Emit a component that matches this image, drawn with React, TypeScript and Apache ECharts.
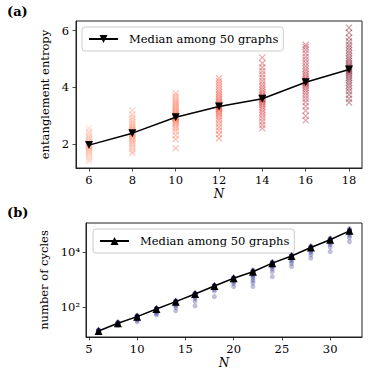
import React, { useEffect, useRef } from 'react';
import * as echarts from 'echarts';

// ---------- Panel (a): entanglement entropy ----------
const nA = [6, 8, 10, 12, 14, 16, 18];
const medianA = [1.97, 2.39, 2.95, 3.33, 3.6, 4.18, 4.63];
const entropyN6 = [1.4, 1.48, 1.55, 1.62, 1.68, 1.72, 1.76, 1.8, 1.83, 1.86, 1.89, 1.91, 1.93, 1.95, 1.96, 1.97, 1.98, 2.0, 2.02, 2.05, 2.08, 2.12, 2.16, 2.2, 2.25, 2.31, 2.38, 2.45, 2.56];
const entropyN8 = [1.68, 1.75, 1.84, 1.92, 2.0, 2.06, 2.12, 2.17, 2.22, 2.26, 2.3, 2.33, 2.36, 2.38, 2.39, 2.4, 2.42, 2.45, 2.48, 2.52, 2.56, 2.61, 2.66, 2.72, 2.79, 2.87, 2.95, 3.05, 3.19];
const entropyN10 = [1.86, 2.18, 2.32, 2.45, 2.55, 2.63, 2.7, 2.76, 2.81, 2.85, 2.89, 2.92, 2.94, 2.95, 2.96, 2.98, 3.01, 3.05, 3.09, 3.14, 3.19, 3.25, 3.31, 3.38, 3.45, 3.52, 3.6, 3.69, 3.79];
const entropyN12 = [2.21, 2.35, 2.48, 2.6, 2.72, 2.83, 2.92, 3.0, 3.07, 3.13, 3.19, 3.24, 3.28, 3.31, 3.33, 3.35, 3.38, 3.42, 3.47, 3.53, 3.6, 3.67, 3.75, 3.83, 3.92, 4.02, 4.12, 4.22, 4.32];
const entropyN14 = [2.56, 2.68, 2.8, 2.92, 3.03, 3.13, 3.22, 3.3, 3.37, 3.43, 3.49, 3.54, 3.58, 3.6, 3.62, 3.66, 3.71, 3.77, 3.84, 3.92, 4.01, 4.11, 4.22, 4.34, 4.46, 4.58, 4.7, 4.85, 5.05];
const entropyN16 = [2.84, 3.0, 3.18, 3.34, 3.48, 3.6, 3.71, 3.81, 3.9, 3.98, 4.05, 4.11, 4.15, 4.18, 4.21, 4.26, 4.32, 4.39, 4.47, 4.56, 4.65, 4.75, 4.86, 4.97, 5.08, 5.2, 5.32, 5.42, 5.5];
const entropyN18 = [3.47, 3.6, 3.74, 3.86, 3.97, 4.07, 4.16, 4.25, 4.33, 4.41, 4.48, 4.54, 4.59, 4.63, 4.67, 4.72, 4.78, 4.85, 4.93, 5.01, 5.1, 5.2, 5.3, 5.4, 5.5, 5.62, 5.75, 5.92, 6.1];
const entropyByN = [entropyN6, entropyN8, entropyN10, entropyN12, entropyN14, entropyN16, entropyN18];
const colorsA = ['#fcb59a', '#fc9677', '#fb7252', '#f04a35', '#d92a2e', '#b8283a', '#7a0f25'];
const xTicksA = [6, 8, 10, 12, 14, 16, 18];
const yTicksA = [2, 4, 6];

// ---------- Panel (b): number of cycles ----------
const nB = [6, 8, 10, 12, 14, 16, 18, 20, 22, 24, 26, 28, 30, 32];
const medianB = [13.4, 25.5, 44.5, 84.5, 156, 296, 575, 1100, 1900, 3900, 7100, 14400, 27500, 58000];
const cyclesN6 = [13, 13, 13, 13, 13, 14, 14, 14, 15];
const cyclesN8 = [21, 23, 24, 25, 25, 25, 26, 26, 26, 26, 27, 28];
const cyclesN10 = [29, 33, 36, 39, 41, 43, 44, 44, 45, 45, 45, 46, 47, 49];
const cyclesN12 = [51, 58, 65, 72, 77, 80, 83, 84, 84, 85, 85, 86, 88, 91];
const cyclesN14 = [73, 95, 112, 125, 138, 146, 152, 155, 156, 157, 157, 159, 163, 170];
const cyclesN16 = [109, 160, 200, 230, 255, 272, 285, 292, 295, 296, 298, 300, 305, 318];
const cyclesN18 = [237, 380, 440, 490, 520, 545, 560, 572, 575, 576, 578, 580, 590, 615];
const cyclesN20 = [550, 700, 820, 900, 960, 1020, 1060, 1090, 1100, 1100, 1105, 1110, 1130, 1180];
const cyclesN22 = [550, 750, 900, 1100, 1300, 1450, 1600, 1750, 1850, 1900, 1900, 1920, 1950, 2050, 2200];
const cyclesN24 = [1260, 1900, 2400, 2800, 3100, 3400, 3650, 3800, 3880, 3900, 3920, 3950, 4100, 4400];
const cyclesN26 = [2950, 3800, 4600, 5300, 5900, 6400, 6800, 7000, 7080, 7100, 7120, 7200, 7500, 8000];
const cyclesN28 = [5900, 8000, 9500, 11000, 12200, 13000, 13800, 14200, 14350, 14400, 14450, 14700, 15300, 16500];
const cyclesN30 = [10200, 15000, 18500, 21500, 23500, 25500, 26500, 27200, 27400, 27500, 27600, 28000, 29500, 31500];
const cyclesN32 = [23400, 33000, 40000, 46000, 51000, 54500, 56500, 57500, 57800, 58000, 58300, 59500, 63000, 70000];
const cyclesByN = [cyclesN6, cyclesN8, cyclesN10, cyclesN12, cyclesN14, cyclesN16, cyclesN18, cyclesN20, cyclesN22, cyclesN24, cyclesN26, cyclesN28, cyclesN30, cyclesN32];
const xTicksB = [5, 10, 15, 20, 25, 30];
const yTicksB = [100, 10000];
const yTickLabelsB: Record<number, string> = { 100: '10²', 10000: '10⁴' };

const legendLabel = 'Median among 50 graphs';
const FONT = 'DejaVu Serif';
const XPATH = 'path://M0,1.3L1.3,0L5,3.7L8.7,0L10,1.3L6.3,5L10,8.7L8.7,10L5,6.3L1.3,10L0,8.7L3.7,5Z';

function axisBase() {
  return {
    axisLine: { show: true, lineStyle: { color: '#222', width: 1 } },
    splitLine: { show: false },
  };
}

export default function App() {
  const ref = useRef<HTMLDivElement>(null);
  useEffect(() => {
    if (!ref.current) return;
    const chart = echarts.init(ref.current, undefined, { renderer: 'svg' });

    const scatterA = entropyByN.map((vals, i) => ({
      type: 'scatter',
      xAxisIndex: 0,
      yAxisIndex: 0,
      silent: true,
      symbol: XPATH,
      symbolSize: 7,
      itemStyle: { color: colorsA[i], opacity: 0.4 },
      data: vals.map((v) => [nA[i], v]),
      z: 2,
    }));
    const scatterBData: number[][] = [];
    cyclesByN.forEach((vals, i) => vals.forEach((v) => scatterBData.push([nB[i], v])));

    const legendCommon = {
      orient: 'horizontal',
      itemWidth: 29,
      itemHeight: 10,
      padding: [6, 5, 6, 6],
      backgroundColor: 'rgba(255,255,255,0.8)',
      borderColor: '#cccccc',
      borderWidth: 1,
      borderRadius: 3,
      selectedMode: false,
      formatter: () => legendLabel,
      textStyle: { fontFamily: FONT, fontSize: 11.5, color: '#000', padding: [0, 0, 0, 6] },
    };

    chart.setOption({
      animation: false,
      backgroundColor: '#fff',
      textStyle: { fontFamily: FONT },
      grid: [
        { left: 76, top: 21, width: 286, height: 147, show: true, borderColor: '#222', borderWidth: 1, backgroundColor: 'transparent' },
        { left: 86, top: 223, width: 276, height: 114, show: true, borderColor: '#222', borderWidth: 1, backgroundColor: 'transparent' },
      ],
      xAxis: [
        {
          ...axisBase(),
          gridIndex: 0, type: 'value', min: 5.4, max: 18.6,
          axisTick: { show: true, length: 3.5, customValues: xTicksA, lineStyle: { color: '#222', width: 0.8 } },
          axisLabel: { customValues: xTicksA, margin: 6, color: '#000', fontFamily: FONT, fontSize: 11.5 },
          name: 'N', nameLocation: 'middle', nameGap: 20,
          nameTextStyle: { fontFamily: FONT, fontStyle: 'italic', fontSize: 12, color: '#000' },
        },
        {
          ...axisBase(),
          gridIndex: 1, type: 'value', min: 4.7, max: 33.3,
          axisTick: { show: true, length: 3.5, customValues: xTicksB, lineStyle: { color: '#222', width: 0.8 } },
          axisLabel: { customValues: xTicksB, margin: 6, color: '#000', fontFamily: FONT, fontSize: 11.5 },
          name: 'N', nameLocation: 'middle', nameGap: 20,
          nameTextStyle: { fontFamily: FONT, fontStyle: 'italic', fontSize: 12, color: '#000' },
        },
      ],
      yAxis: [
        {
          ...axisBase(),
          gridIndex: 0, type: 'value', min: 1.165, max: 6.335,
          axisTick: { show: true, length: 3.5, customValues: yTicksA, lineStyle: { color: '#222', width: 0.8 } },
          axisLabel: { customValues: yTicksA, margin: 7, color: '#000', fontFamily: FONT, fontSize: 11.5 },
          name: 'entanglement entropy', nameLocation: 'middle', nameGap: 18,
          nameTextStyle: { fontFamily: FONT, fontSize: 11.5, color: '#000' },
        },
        {
          ...axisBase(),
          gridIndex: 1, type: 'log', logBase: 10, min: 8.1, max: 112000,
          axisTick: { show: true, length: 3.5, customValues: yTicksB, lineStyle: { color: '#222', width: 0.8 } },
          axisLabel: {
            customValues: yTicksB, margin: 6, color: '#000', fontFamily: FONT, fontSize: 11.5,
            formatter: (v: number) => yTickLabelsB[Math.round(v)] ?? '',
          },
          name: 'number of cycles', nameLocation: 'middle', nameGap: 28,
          nameTextStyle: { fontFamily: FONT, fontSize: 11.5, color: '#000' },
        },
      ],
      legend: [
        { ...legendCommon, data: ['medianA'], left: 82, top: 27 },
        { ...legendCommon, data: ['medianB'], left: 93, top: 229 },
      ],
      graphic: [
        { type: 'text', left: 7, top: 5, style: { text: '(a)', fontFamily: FONT, fontWeight: 'bold', fontSize: 13, fill: '#000' } },
        { type: 'text', left: 7, top: 206, style: { text: '(b)', fontFamily: FONT, fontWeight: 'bold', fontSize: 13, fill: '#000' } },
      ],
      series: [
        ...scatterA,
        {
          type: 'line', name: 'medianA', xAxisIndex: 0, yAxisIndex: 0,
          data: nA.map((n, i) => [n, medianA[i]]),
          symbol: 'triangle', symbolRotate: 180, symbolSize: 8,
          itemStyle: { color: '#000' }, lineStyle: { color: '#000', width: 1.5 }, z: 5,
        },
        {
          type: 'scatter', xAxisIndex: 1, yAxisIndex: 1, silent: true,
          symbol: 'circle', symbolSize: 5,
          itemStyle: { color: '#101080', opacity: 0.27 },
          data: scatterBData, z: 2,
        },
        {
          type: 'line', name: 'medianB', xAxisIndex: 1, yAxisIndex: 1,
          data: nB.map((n, i) => [n, medianB[i]]),
          symbol: 'triangle', symbolSize: 8,
          itemStyle: { color: '#000' }, lineStyle: { color: '#000', width: 1.5 }, z: 5,
        },
      ],
    });
    return () => chart.dispose();
  }, []);
  return <div ref={ref} style={{ position: 'fixed', left: 0, top: 0, width: 389, height: 373 }} />;
}
